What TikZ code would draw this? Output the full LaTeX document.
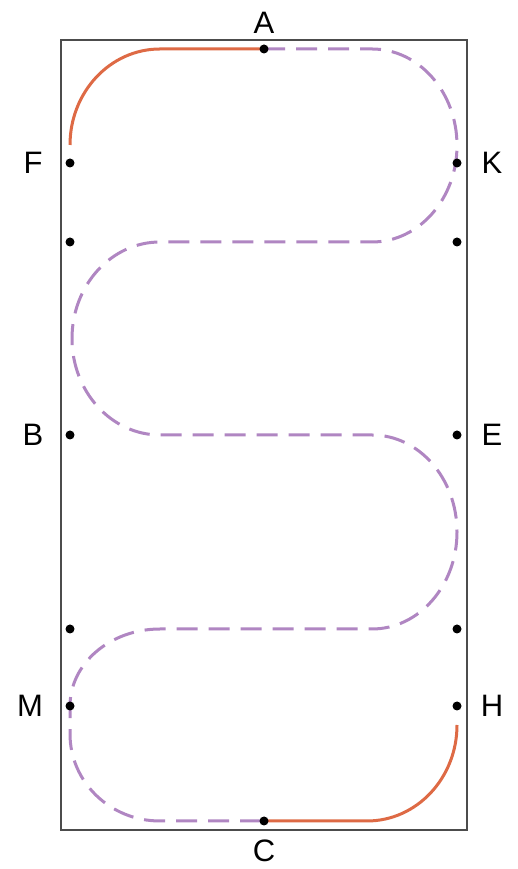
\documentclass[tikz,border=0pt]{standalone}
\usepackage{fontspec}
\setmainfont{Liberation Sans}
\begin{document}
\begin{tikzpicture}[x=1pt,y=1pt,
  dot/.style={circle,fill=black,inner sep=0pt,minimum size=9pt},
  lbl/.style={font=\fontsize{31}{31}\selectfont,text=black,inner sep=0pt},
  orangepath/.style={draw=orangeC,line width=3pt},
  purplepath/.style={draw=purpleC,line width=3pt,dash pattern=on 21pt off 11pt},
  arena/.style={draw=black!70,line width=2.4pt}]
\definecolor{orangeC}{HTML}{DE6A45}
\definecolor{purpleC}{HTML}{B086C2}
\useasboundingbox (0,0) rectangle (518,869);
\fill[white] (0,0) rectangle (518,869);
% arena
\draw[arena] (61,39) rectangle (467,829);
% points
\coordinate (A) at (264,820);
\coordinate (C) at (264,48);
\coordinate (F) at (70,706);
\coordinate (K) at (457,706);
\coordinate (L1) at (70,627);
\coordinate (R1) at (457,627);
\coordinate (B) at (70,434);
\coordinate (E) at (457,434);
\coordinate (L2) at (70,240);
\coordinate (R2) at (457,240);
\coordinate (M) at (70,163);
\coordinate (H) at (457,163);
% orange top
\draw[orangepath] (A) -- (160,820) arc[start angle=90,end angle=180,x radius=90,y radius=96];
% purple serpentine
\draw[purplepath] (A) -- (372,820)
  arc[start angle=90,end angle=-90,x radius=85,y radius=96.5]
  -- (160,627)
  arc[start angle=90,end angle=270,x radius=88,y radius=96.5]
  -- (372,434)
  arc[start angle=90,end angle=-90,x radius=85,y radius=97]
  -- (160,240)
  arc[start angle=90,end angle=180,x radius=90,y radius=77]
  -- (70,135)
  arc[start angle=180,end angle=270,x radius=90,y radius=87]
  -- (C);
% orange bottom
\draw[orangepath] (C) -- (367,48) arc[start angle=-90,end angle=0,x radius=90,y radius=96];
% dots
\foreach \p in {A,C,F,K,L1,R1,B,E,L2,R2,M,H}
  \node[dot] (d\p) at (\p) {};
% labels
\node[lbl] (tA) at (264,846) {A};
\node[lbl] (tC) at (264,18) {C};
\node[lbl] (tF) at (33,706) {F};
\node[lbl] (tK) at (492,706) {K};
\node[lbl] (tB) at (33,434) {B};
\node[lbl] (tE) at (492,434) {E};
\node[lbl] (tM) at (30,163) {M};
\node[lbl] (tH) at (492,163) {H};
\end{tikzpicture}
\end{document}
